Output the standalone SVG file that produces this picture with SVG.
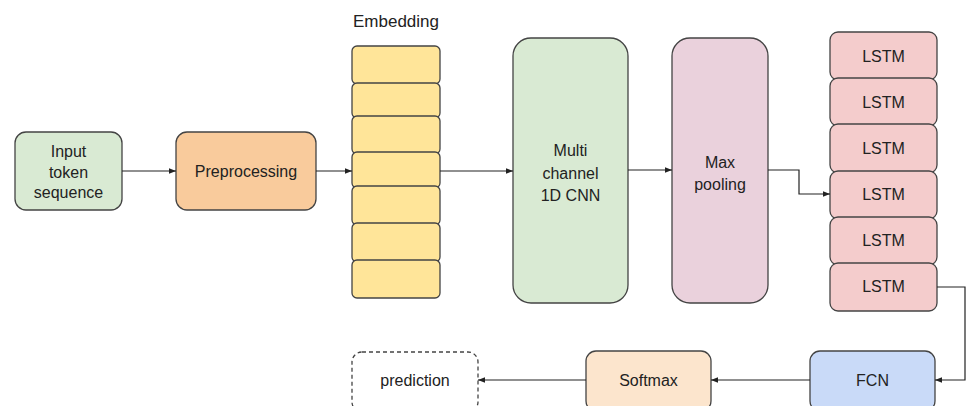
<svg xmlns="http://www.w3.org/2000/svg" width="966" height="406" viewBox="0 0 966 406">
<style>
.b{stroke:#444;stroke-width:1.3}
.t{font-family:"Liberation Sans",Arial,sans-serif;font-size:16px;fill:#222;text-anchor:middle}
.c{fill:none;stroke:#222;stroke-width:1.2;marker-end:url(#a)}
</style>
<defs>
<marker id="a" viewBox="0 0 8 8" refX="8" refY="4" markerWidth="7" markerHeight="7" markerUnits="userSpaceOnUse" orient="auto">
<path d="M0,0.8 L8,4 L0,7.2 z" fill="#222"/>
</marker>
</defs>
<rect width="966" height="406" fill="#fff"/>
<g id="input"><rect class="b" x="15" y="132" width="107" height="78" rx="11" fill="#d9ead3"/>
<text class="t" x="68.5" y="157">Input</text><text class="t" x="68.5" y="177.5">token</text><text class="t" x="68.5" y="198">sequence</text></g>
<g id="preprocessing"><rect class="b" x="176" y="132" width="140" height="78" rx="11" fill="#f9cb9c"/>
<text class="t" x="246" y="177">Preprocessing</text></g>
<g id="embedding">
<text class="t" x="396" y="27" style="font-size:17px">Embedding</text>
<rect class="b" x="352" y="46" width="88" height="38" rx="5" fill="#ffe599"/>
<rect class="b" x="352" y="83" width="88" height="35" rx="5" fill="#ffe599"/>
<rect class="b" x="352" y="116" width="88" height="38" rx="5" fill="#ffe599"/>
<rect class="b" x="352" y="152" width="88" height="36" rx="5" fill="#ffe599"/>
<rect class="b" x="352" y="186" width="88" height="39" rx="5" fill="#ffe599"/>
<rect class="b" x="352" y="223" width="88" height="39" rx="5" fill="#ffe599"/>
<rect class="b" x="352" y="260" width="88" height="38" rx="5" fill="#ffe599"/>
</g>
<g id="cnn"><rect class="b" x="513" y="38" width="115" height="265" rx="18" fill="#d9ead3"/>
<text class="t" x="570.5" y="156">Multi</text><text class="t" x="570.5" y="178.5">channel</text><text class="t" x="570.5" y="201">1D CNN</text></g>
<g id="maxpool"><rect class="b" x="672" y="38" width="96" height="265" rx="18" fill="#ead1dc"/>
<text class="t" x="720" y="168">Max</text><text class="t" x="720" y="190">pooling</text></g>
<g id="lstm">
<rect class="b" x="830" y="32" width="107" height="48" rx="8" fill="#f4cccc"/><text class="t" x="883.5" y="62">LSTM</text>
<rect class="b" x="830" y="78" width="107" height="48" rx="8" fill="#f4cccc"/><text class="t" x="883.5" y="108">LSTM</text>
<rect class="b" x="830" y="124" width="107" height="49" rx="8" fill="#f4cccc"/><text class="t" x="883.5" y="154">LSTM</text>
<rect class="b" x="830" y="171" width="107" height="48" rx="8" fill="#f4cccc"/><text class="t" x="883.5" y="200">LSTM</text>
<rect class="b" x="830" y="217" width="107" height="48" rx="8" fill="#f4cccc"/><text class="t" x="883.5" y="246">LSTM</text>
<rect class="b" x="830" y="263" width="107" height="48" rx="8" fill="#f4cccc"/><text class="t" x="883.5" y="292">LSTM</text>
</g>
<g id="fcn"><rect class="b" x="810" y="351" width="125" height="60" rx="10" fill="#c9daf8"/>
<text class="t" x="872.5" y="386">FCN</text></g>
<g id="softmax"><rect class="b" x="586" y="351" width="125" height="60" rx="10" fill="#fce5cd"/>
<text class="t" x="648.5" y="386">Softmax</text></g>
<g id="prediction"><rect x="352" y="352" width="126" height="60" rx="10" fill="#fff" stroke="#444" stroke-width="1.3" stroke-dasharray="4,3"/>
<text class="t" x="415" y="386">prediction</text></g>
<g id="connectors">
<path class="c" d="M122,171 H176"/>
<path class="c" d="M316,171 H352"/>
<path class="c" d="M440,171 H513"/>
<path class="c" d="M628,170 H672"/>
<path class="c" d="M768,170 H799 V194 H830"/>
<path class="c" d="M937,287 H965 V380 H935"/>
<path class="c" d="M810,380 H711"/>
<path class="c" d="M586,380 H478"/>
</g>
</svg>
